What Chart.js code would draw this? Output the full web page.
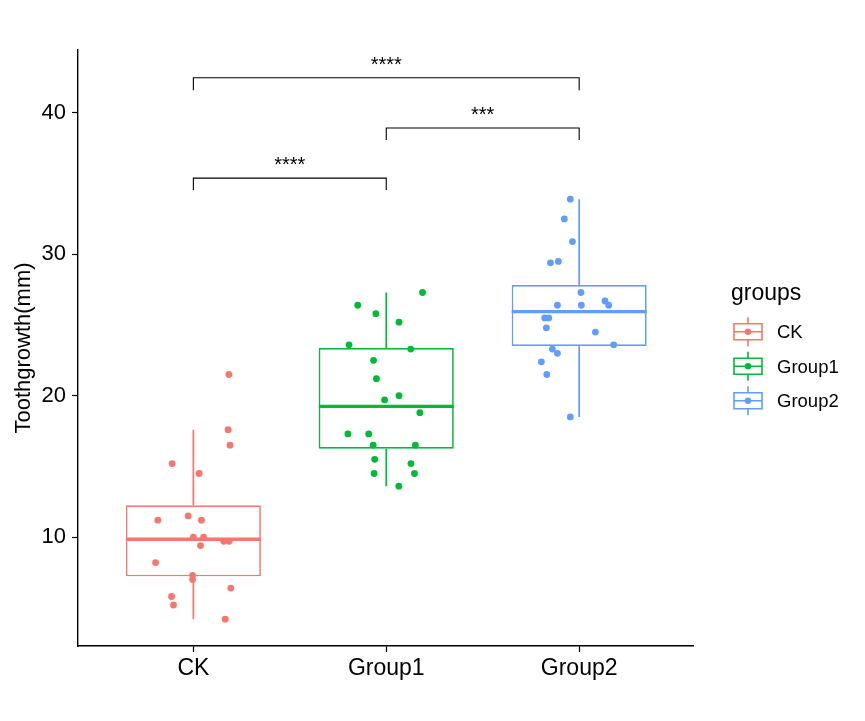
<!DOCTYPE html>
<html><head><meta charset="utf-8">
<script src="https://cdn.jsdelivr.net/npm/chart.js@4.4.1/dist/chart.umd.min.js"></script>
<style>html,body{margin:0;padding:0;background:#fff}#wrap{width:865px;height:721px}</style>
</head><body><div id="wrap"><canvas id="c" width="865" height="721"></canvas></div>
<script>
// ---- data ----
const categories = ['CK', 'Group1', 'Group2'];
const legendTitle = 'groups';
const yAxisTitle = 'Toothgrowth(mm)';
const yTicks = [10, 20, 30, 40];

const ckValues    = [21.5, 17.6, 16.5, 15.2, 14.5, 11.5, 11.2, 11.2, 10.0, 10.0, 9.7, 9.7, 9.4, 8.2, 7.3, 7.0, 6.4, 5.8, 5.2, 4.2];
const ckJitter    = [0.184, 0.180, 0.190, -0.110, 0.030, -0.027, -0.184, 0.042, 0.000, 0.053, 0.158, 0.185, 0.037, -0.196, -0.004, -0.004, 0.194, -0.113, -0.103, 0.165];
const group1Values = [27.3, 26.4, 25.8, 25.2, 23.6, 23.3, 22.5, 21.2, 20.0, 19.7, 18.8, 17.3, 17.3, 16.5, 16.5, 15.5, 15.2, 14.5, 14.5, 13.6];
const group1Jitter = [0.188, -0.148, -0.054, 0.066, -0.193, 0.127, -0.066, -0.051, 0.066, -0.009, 0.174, -0.199, -0.091, -0.068, 0.151, -0.060, 0.128, -0.063, 0.146, 0.065];
const group2Values = [33.9, 32.5, 30.9, 29.4, 29.5, 27.3, 26.4, 26.4, 26.7, 26.4, 25.5, 25.5, 24.8, 24.5, 23.6, 23.3, 23.0, 22.4, 21.5, 18.5];
const group2Jitter = [-0.046, -0.077, -0.035, -0.149, -0.108, 0.009, -0.113, 0.011, 0.134, 0.153, -0.179, -0.158, -0.170, 0.084, 0.179, -0.139, -0.113, -0.196, -0.168, -0.046];

const q1Values      = [7.225, 16.25, 23.525];
const medianValues  = [9.85, 19.25, 25.95];
const q3Values      = [12.25, 23.375, 27.825];
const whiskerLow    = [4.2, 13.6, 18.5];
const whiskerHigh   = [17.6, 27.3, 33.9];

const compareFrom   = [1, 2, 1];
const compareTo     = [3, 3, 2];
const compareLabels = ['****', '***', '****'];
const bracketTop    = [42.49, 38.93, 35.39];
const bracketTip    = [41.61, 38.08, 34.55];
const labelY        = [42.94, 39.40, 35.86];

// ---- styling ----
const colors = ['#F8766D', '#00BA38', '#619CFF'];
const FONT = "'Liberation Sans', Arial, Helvetica, sans-serif";
const BOX_W = 0.7;
const allValues = [ckValues, group1Values, group2Values];
const allJitter = [ckJitter, group1Jitter, group2Jitter];

const datasets = [];
// boxes (floating bars)
datasets.push({
  type: 'bar',
  data: categories.map((c, i) => ({ x: i + 1, y: [q1Values[i], q3Values[i]] })),
  backgroundColor: '#ffffff',
  borderColor: colors,
  borderWidth: 1.7,
  borderSkipped: false,
  grouped: false,
  barPercentage: BOX_W,
  categoryPercentage: 1,
  order: 10
});
categories.forEach((c, i) => {
  // whiskers
  datasets.push({
    type: 'line',
    data: [{ x: i + 1, y: whiskerLow[i] }, { x: i + 1, y: q1Values[i] }, { x: i + 1, y: null },
           { x: i + 1, y: q3Values[i] }, { x: i + 1, y: whiskerHigh[i] }],
    borderColor: colors[i], borderWidth: 1.7, pointRadius: 0, spanGaps: false, order: 11
  });
  // median
  datasets.push({
    type: 'line',
    data: [{ x: i + 1 - BOX_W / 2, y: medianValues[i] }, { x: i + 1 + BOX_W / 2, y: medianValues[i] }],
    borderColor: colors[i], borderWidth: 3.3, pointRadius: 0, borderCapStyle: 'butt', order: 9
  });
  // jittered points
  datasets.push({
    type: 'scatter',
    data: allValues[i].map((v, j) => ({ x: i + 1 + allJitter[i][j], y: v })),
    backgroundColor: colors[i], borderWidth: 0, pointRadius: 3.4, order: 1
  });
});
// significance brackets
compareFrom.forEach((f, k) => {
  datasets.push({
    type: 'line',
    data: [{ x: f, y: bracketTip[k] }, { x: f, y: bracketTop[k] }, { x: compareTo[k], y: bracketTop[k] }, { x: compareTo[k], y: bracketTip[k] }],
    borderColor: '#000', borderWidth: 1.1, pointRadius: 0, order: 0
  });
});

const annotPlugin = {
  id: 'annot',
  afterDatasetsDraw(chart) {
    const ctx = chart.ctx, xs = chart.scales.x, ys = chart.scales.y;
    ctx.save();
    ctx.fillStyle = '#000';
    ctx.font = '20px ' + FONT;
    ctx.textAlign = 'center';
    ctx.textBaseline = 'alphabetic';
    compareLabels.forEach((lab, k) => {
      const cx = xs.getPixelForValue((compareFrom[k] + compareTo[k]) / 2);
      ctx.fillText(lab, cx, ys.getPixelForValue(labelY[k]));
    });
    ctx.restore();
  },
  afterDraw(chart) {
    const ctx = chart.ctx;
    ctx.save();
    ctx.fillStyle = '#000';
    ctx.textAlign = 'left';
    ctx.textBaseline = 'alphabetic';
    ctx.font = '23px ' + FONT;
    ctx.fillText(legendTitle, 731, 300);
    categories.forEach((c, i) => {
      const cy = 331.7 + i * 34.5, cx = 748;
      ctx.strokeStyle = colors[i];
      ctx.lineWidth = 1.6;
      ctx.beginPath();
      ctx.moveTo(cx, cy - 14.5); ctx.lineTo(cx, cy - 8);
      ctx.moveTo(cx, cy + 8); ctx.lineTo(cx, cy + 14.5);
      ctx.moveTo(734, cy); ctx.lineTo(762, cy);
      ctx.rect(734, cy - 8, 28, 16);
      ctx.stroke();
      ctx.fillStyle = colors[i];
      ctx.beginPath(); ctx.arc(cx, cy, 3.2, 0, Math.PI * 2); ctx.fill();
      ctx.fillStyle = '#000';
      ctx.font = '18.5px ' + FONT;
      ctx.fillText(c, 777, cy + 6.7);
    });
    ctx.restore();
  }
};

new Chart(document.getElementById('c'), {
  data: { datasets },
  options: {
    responsive: false,
    animation: false,
    layout: { padding: { left: 0, top: 50, right: 172, bottom: 0 } },
    plugins: { legend: { display: false }, tooltip: { enabled: false } },
    scales: {
      x: {
        type: 'linear', min: 0.402, max: 3.59, offset: false,
        afterBuildTicks: s => { s.ticks = categories.map((c, i) => ({ value: i + 1 })); },
        afterFit: s => { s.height = 75; },
        ticks: { callback: v => categories[v - 1], color: '#000', font: { family: FONT, size: 23 }, padding: 3, maxRotation: 0, autoSkip: false },
        grid: { offset: false, drawOnChartArea: false, drawTicks: true, tickLength: 6, tickColor: '#000', tickWidth: 1.2 },
        border: { display: true, color: '#000', width: 1.4 }
      },
      y: {
        type: 'linear', min: 2.3, max: 44.45,
        afterBuildTicks: s => { s.ticks = yTicks.map(v => ({ value: v })); },
        afterFit: s => { s.width = 78; },
        ticks: { color: '#000', font: { family: FONT, size: 22 }, padding: 6 },
        grid: { drawOnChartArea: false, drawTicks: true, tickLength: 6, tickColor: '#000', tickWidth: 1.2 },
        border: { display: true, color: '#000', width: 1.4 },
        title: { display: true, text: yAxisTitle, color: '#000', font: { family: FONT, size: 22 }, padding: { top: 11, bottom: 0 } }
      }
    }
  },
  plugins: [annotPlugin]
});
</script></body></html>
